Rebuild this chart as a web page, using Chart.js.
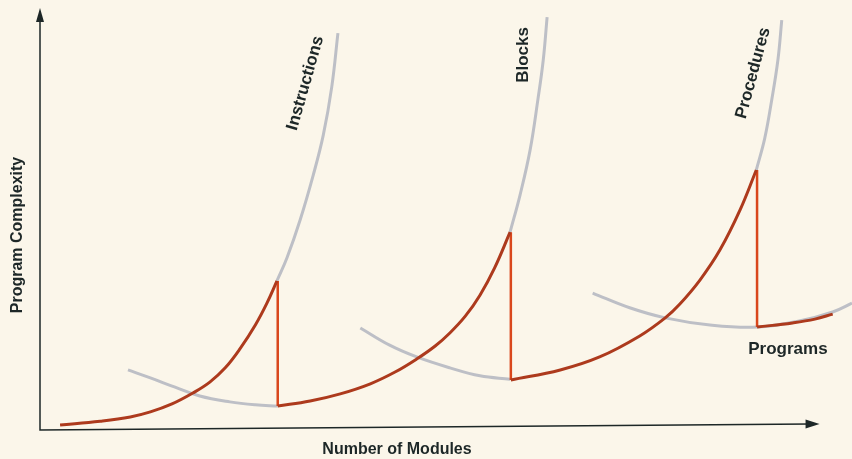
<!DOCTYPE html>
<html>
<head>
<meta charset="utf-8">
<script src="https://cdn.jsdelivr.net/npm/chart.js@4.4.1/dist/chart.umd.min.js"></script>
<style>
  html, body { margin: 0; padding: 0; background: #fbf6ea; }
  #wrap { width: 852px; height: 459px; position: relative; }
</style>
</head>
<body>
<div id="wrap"><canvas id="complexityChart"></canvas></div>
<script>
// Number of modules (x) vs program complexity (y), both on a 0-100 scale
// red path: complexity actually reached, level by level
const redInstructions = [[2.6,1.2],[7.8,2.1],[11.7,3.1],[14.3,4.3],[17.1,6.2],[19.8,8.8],[22.0,11.4],[24.0,14.8],[25.9,19.3],[27.9,25.0],[29.4,30.2],[30.7,35.5]];
const redBlocks = [[30.8,5.7],[35.0,6.9],[38.9,8.6],[42.8,11.0],[46.0,13.8],[48.8,16.9],[51.2,20.0],[53.1,23.1],[55.1,27.1],[57.0,32.1],[58.9,38.6],[60.9,47.1]];
const redProcedures = [[61.0,11.9],[67.4,14.3],[72.5,17.4],[77.7,22.4],[81.0,26.7],[82.9,30.0],[85.5,35.7],[88.1,42.9],[90.7,52.4],[92.8,61.9]];
const redPrograms = [[92.9,24.5],[97.5,25.5],[100.4,26.4],[102.7,27.6]];
// drops where a new level of abstraction is introduced
const dropX = [30.8, 61.0, 92.9];
const dropTop = [35.5, 47.1, 61.9];
const dropBottom = [5.7, 11.9, 24.5];

// gray curves: growth of each level, and the U-shaped program curves
const grayInstructions = [[30.7,35.5],[32.0,41.0],[33.7,50.0],[35.4,60.7],[36.7,70.2],[37.8,81.7],[38.6,94.5]];
const grayBlocks = [[60.9,47.1],[62.2,56.0],[63.5,66.7],[64.5,78.6],[65.2,88.1],[65.7,98.3]];
const grayProcedures = [[92.8,61.9],[93.9,69.5],[94.8,78.6],[95.6,88.1],[96.1,97.6]];
const grayU1 = [[11.4,14.3],[14.3,12.4],[17.5,10.2],[20.7,8.1],[24.6,6.7],[27.9,6.0],[30.8,5.7]];
const grayU2 = [[41.5,24.3],[45.3,20.2],[48.8,17.4],[53.1,14.8],[57.0,12.9],[60.9,12.1]];
const grayU3 = [[71.6,32.6],[76.4,29.1],[81.0,26.7],[86.8,25.0],[92.9,24.5],[98.5,26.0],[102.7,28.1],[105.2,30.2]];

// curve labels: text, x, y, rotation (deg)
const labelText = ['Instructions', 'Blocks', 'Procedures', 'Programs'];
const labelX = [34.4, 62.6, 92.4, 96.9];
const labelY = [82.6, 89.3, 85.0, 19.1];
const labelAngle = [-74, -90, -75, 0];

const xTitle = 'Number of Modules';
const yTitle = 'Program Complexity';

const RED = '#ad3a1d';
const RED_DROP = '#d9471c';
const GRAY = '#bdbfc6';
const INK = '#1d2727';

function pts(arr) {
    return arr.map(p => ({ x: p[0], y: p[1] }));
}

function curve(arr, color, order) {
    return {
        data: pts(arr),
        borderColor: color,
        borderWidth: 3,
        pointRadius: 0,
        showLine: true,
        tension: 0.4,
        clip: false,
        order: order
    };
}

const datasets = [
    curve(redInstructions, RED, 0),
    curve(redBlocks, RED, 0),
    curve(redProcedures, RED, 0),
    curve(redPrograms, RED, 0),
    curve(grayInstructions, GRAY, 2),
    curve(grayBlocks, GRAY, 2),
    curve(grayProcedures, GRAY, 2),
    curve(grayU1, GRAY, 2),
    curve(grayU2, GRAY, 2),
    curve(grayU3, GRAY, 2)
];
dropX.forEach((x, i) => {
    datasets.push({
        data: [{ x: x, y: dropTop[i] }, { x: x, y: dropBottom[i] }],
        borderColor: RED_DROP,
        borderWidth: 2.5,
        pointRadius: 0,
        showLine: true,
        clip: false,
        order: 1
    });
});

// axes with arrow heads, drawn under the curves
const axesPlugin = {
    id: 'axesPlugin',
    beforeDatasetsDraw(chart) {
        const { ctx, chartArea, scales } = chart;
        const x0 = chartArea.left, y0 = chartArea.bottom;
        const xTip = scales.x.getPixelForValue(101), xTipY = y0 - 6;
        const yTip = chartArea.top - 2;
        ctx.save();
        ctx.strokeStyle = INK;
        ctx.fillStyle = INK;
        ctx.lineWidth = 1.5;
        ctx.beginPath();
        ctx.moveTo(x0, yTip + 10);
        ctx.lineTo(x0, y0);
        ctx.lineTo(xTip - 10, xTipY + 0.1);
        ctx.stroke();
        // y arrow
        ctx.beginPath();
        ctx.moveTo(x0, yTip);
        ctx.lineTo(x0 - 4, yTip + 14);
        ctx.lineTo(x0 + 4, yTip + 14);
        ctx.closePath();
        ctx.fill();
        // x arrow
        ctx.beginPath();
        ctx.moveTo(xTip, xTipY);
        ctx.lineTo(xTip - 14, xTipY - 4.5);
        ctx.lineTo(xTip - 14, xTipY + 4.5);
        ctx.closePath();
        ctx.fill();
        ctx.restore();
    },
    afterDraw(chart) {
        const { ctx, chartArea, scales } = chart;
        ctx.save();
        ctx.fillStyle = INK;
        ctx.textAlign = 'center';
        ctx.textBaseline = 'middle';
        ctx.font = 'bold 17px "Liberation Sans", Arial, sans-serif';
        labelText.forEach((t, i) => {
            const px = scales.x.getPixelForValue(labelX[i]);
            const py = scales.y.getPixelForValue(labelY[i]);
            ctx.save();
            ctx.translate(px, py);
            ctx.rotate(labelAngle[i] * Math.PI / 180);
            ctx.fillText(t, 0, 0);
            ctx.restore();
        });
        ctx.font = 'bold 16px "Liberation Sans", Arial, sans-serif';
        ctx.fillText(xTitle, 397, chartArea.bottom + 20);
        ctx.save();
        ctx.translate(18, 235);
        ctx.rotate(-Math.PI / 2);
        ctx.fillText(yTitle, 0, 0);
        ctx.restore();
        ctx.restore();
    }
};

new Chart(document.getElementById('complexityChart'), {
    type: 'scatter',
    data: { datasets: datasets },
    options: {
        responsive: true,
        maintainAspectRatio: false,
        animation: false,
        layout: { padding: { left: 40, right: 0, top: 10, bottom: 29 } },
        plugins: {
            legend: { display: false },
            tooltip: { enabled: false }
        },
        scales: {
            x: { type: 'linear', min: 0, max: 105.2, display: false },
            y: { type: 'linear', min: 0, max: 100, display: false }
        }
    },
    plugins: [axesPlugin]
});
</script>
</body>
</html>
